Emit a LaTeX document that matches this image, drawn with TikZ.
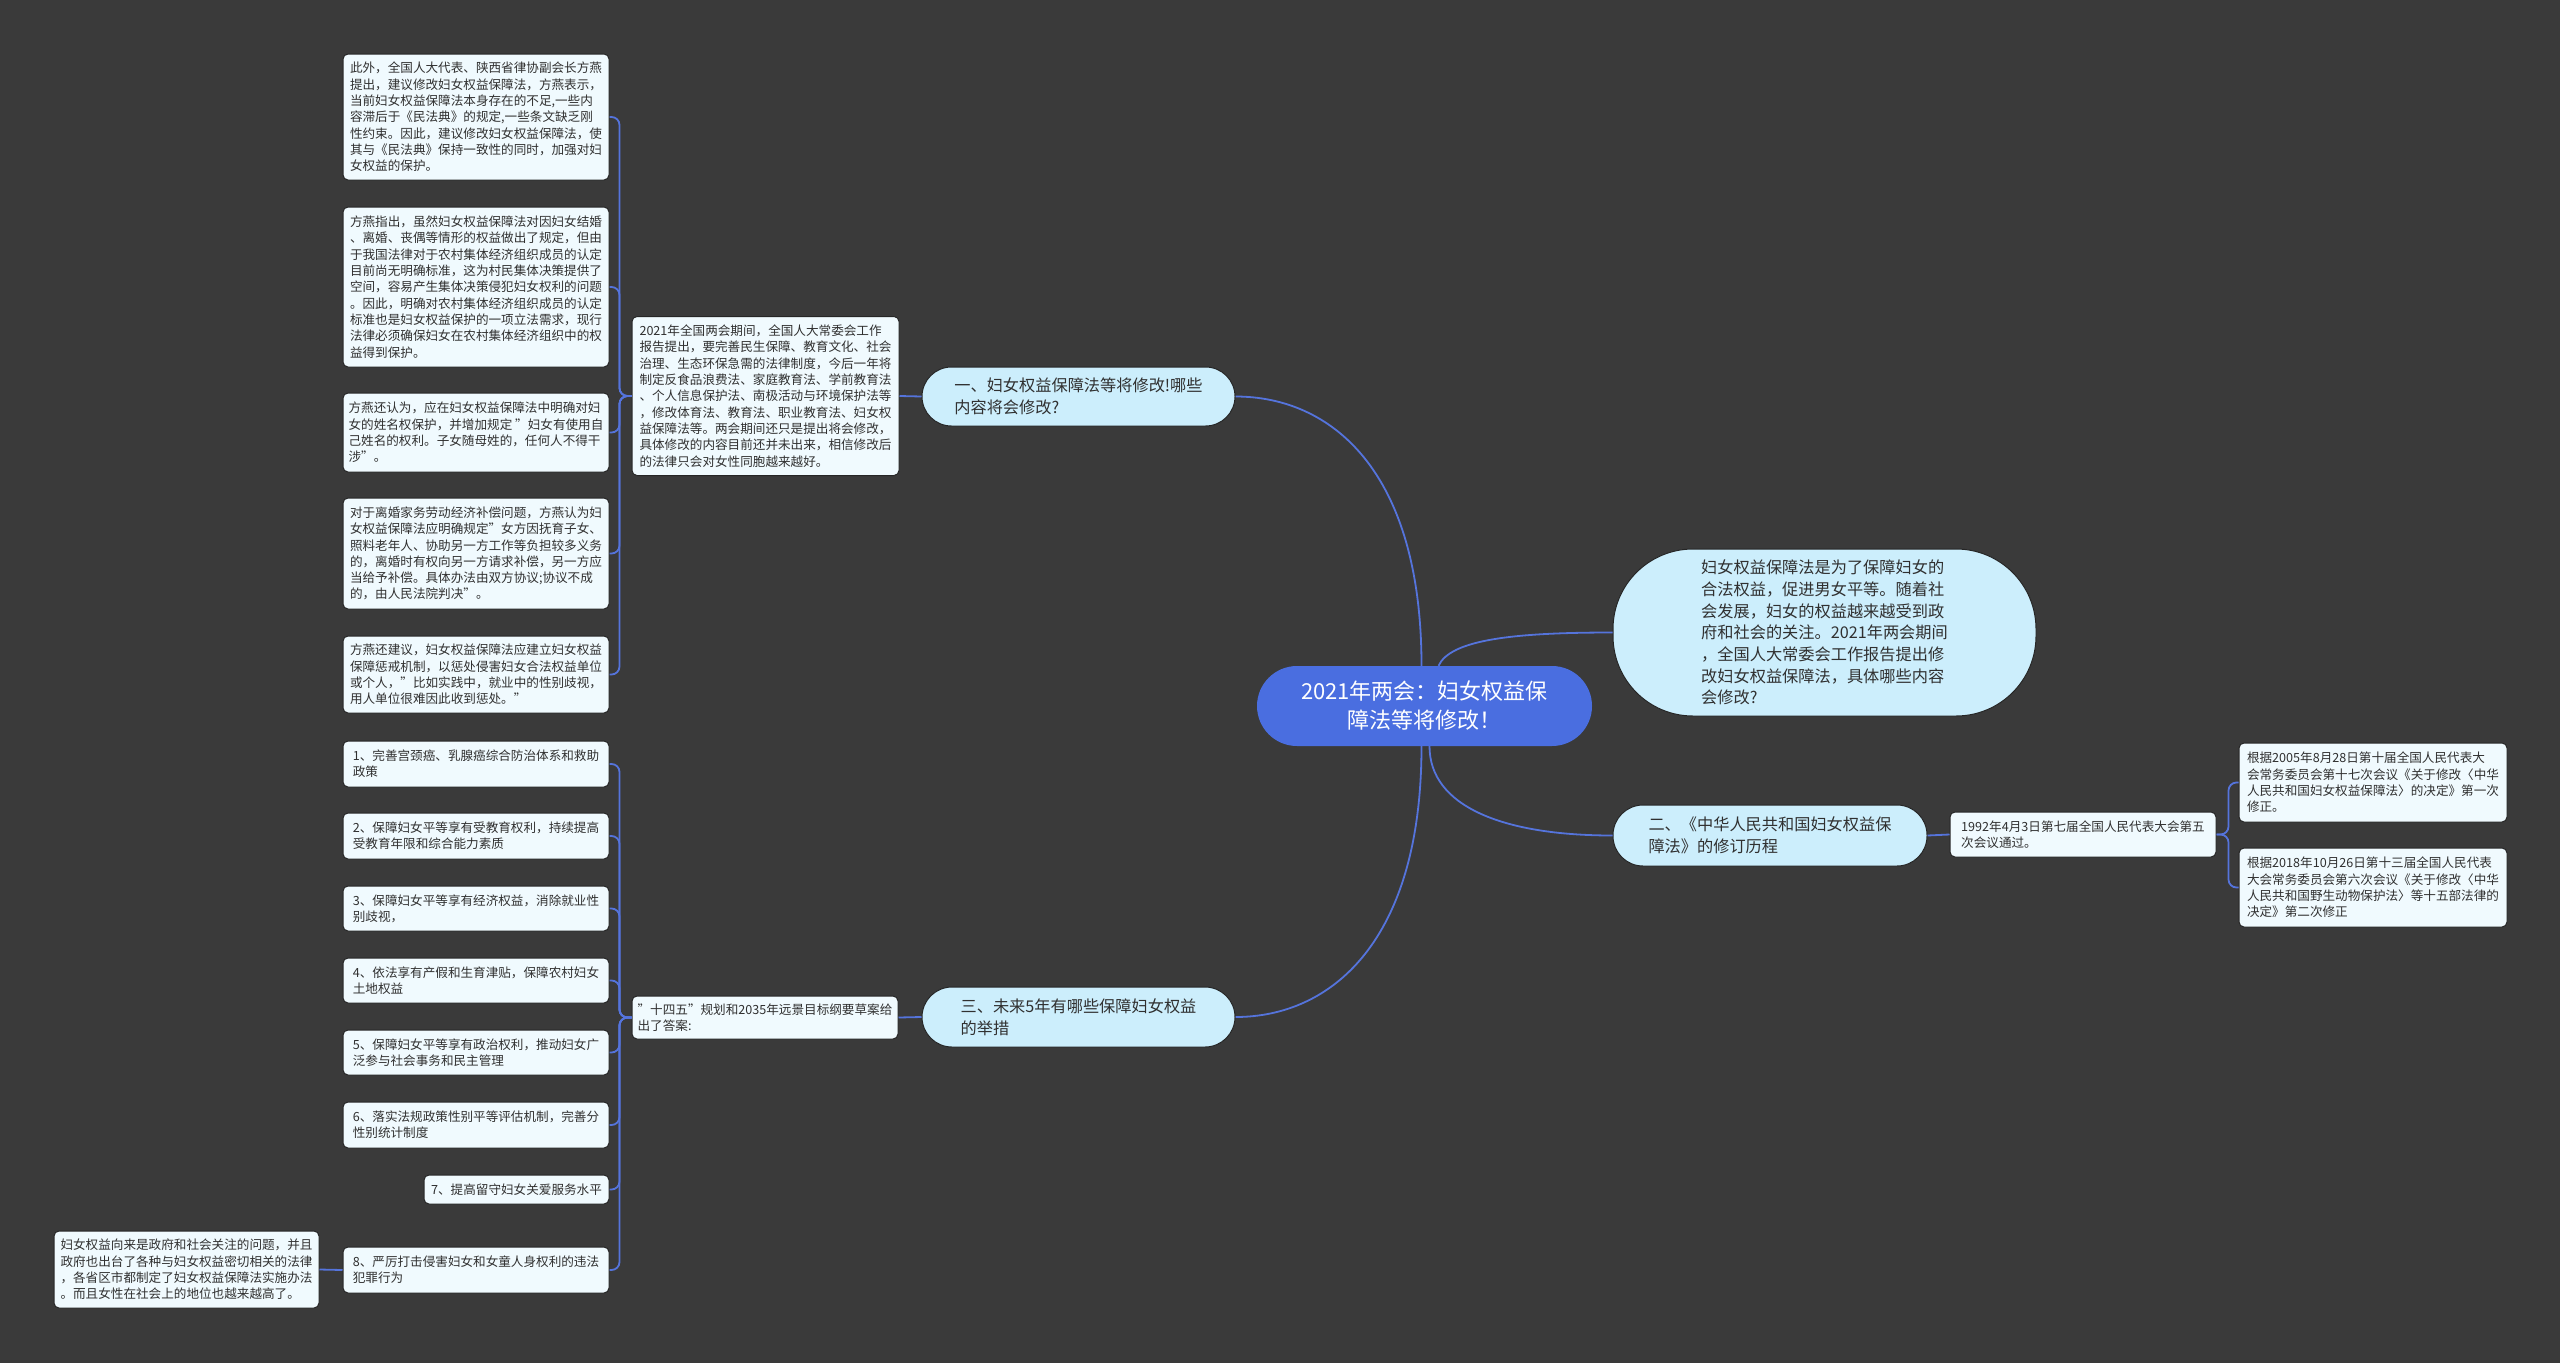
\documentclass[tikz,border=0pt]{standalone}
\usepackage{fontspec}
\setmainfont{Noto Sans CJK SC}
\definecolor{bg}{HTML}{3A3A3A}
\definecolor{leaffill}{HTML}{F0FAFE}
\definecolor{leafline}{HTML}{262626}
\definecolor{branchfill}{HTML}{CCEEFC}
\definecolor{branchline}{HTML}{262626}
\definecolor{ctrfill}{HTML}{4A6EE0}
\definecolor{linkc}{HTML}{5574DC}
\definecolor{txt}{HTML}{303030}
\tikzset{
  leafbox/.style={draw=leafline, line width=1pt, fill=leaffill, rounded corners=5pt,
    inner sep=0pt, align=left, text=txt, font=\fontsize{12.6pt}{16.3pt}\selectfont},
  branchbox/.style={draw=branchline, line width=1pt, fill=branchfill,
    inner sep=0pt, align=left, text=txt, font=\fontsize{16.2pt}{21.7pt}\selectfont},
  ctrbox/.style={draw=none, fill=ctrfill, rounded corners=40pt, inner sep=0pt,
    align=center, text=white, font=\fontsize{22pt}{29pt}\selectfont},
  link/.style={draw=linkc, line width=1.8pt},
  bracket/.style={draw=linkc, line width=1.8pt, rounded corners=8pt}
}
\begin{document}
\begin{tikzpicture}[x=1pt,y=-1pt]
\useasboundingbox (0,0) rectangle (2560,1363);
\fill[bg] (0,0) rectangle (2560,1363);

% centre
\node[ctrbox, minimum width=335pt, minimum height=80pt] (ctr) at (1424.5,706)
  {2021年两会：妇女权益保\\障法等将修改！};

% first-level nodes
\node[branchbox, rounded corners=29.5pt, minimum width=313pt, minimum height=59pt] (b1) at (1078.5,396.5)
  {一、妇女权益保障法等将修改!哪些\\内容将会修改?};
\node[branchbox, rounded corners=80pt, minimum width=423pt, minimum height=167pt] (sum) at (1824.5,632.5)
  {妇女权益保障法是为了保障妇女的\\合法权益，促进男女平等。随着社\\会发展，妇女的权益越来越受到政\\府和社会的关注。2021年两会期间\\，全国人大常委会工作报告提出修\\改妇女权益保障法，具体哪些内容\\会修改?};
\node[branchbox, rounded corners=30pt, minimum width=314pt, minimum height=61pt] (b2) at (1770,835.5)
  {二、《中华人民共和国妇女权益保\\障法》的修订历程};
\node[branchbox, rounded corners=30pt, minimum width=313pt, minimum height=60pt] (b3) at (1078.5,1017)
  {三、未来5年有哪些保障妇女权益\\的举措};

% branch 1 subtree
\node[leafbox, minimum width=267pt, minimum height=159pt] (mid) at (765.5,396)
  {2021年全国两会期间，全国人大常委会工作\\报告提出，要完善民生保障、教育文化、社会\\治理、生态环保急需的法律制度，今后一年将\\制定反食品浪费法、家庭教育法、学前教育法\\、个人信息保护法、南极活动与环境保护法等\\，修改体育法、教育法、职业教育法、妇女权\\益保障法等。两会期间还只是提出将会修改，\\具体修改的内容目前还并未出来，相信修改后\\的法律只会对女性同胞越来越好。};
\node[leafbox, minimum width=266pt, minimum height=126pt] (a1) at (476,117)
  {此外，全国人大代表、陕西省律协副会长方燕\\提出，建议修改妇女权益保障法，方燕表示，\\当前妇女权益保障法本身存在的不足,一些内\\容滞后于《民法典》的规定,一些条文缺乏刚\\性约束。因此，建议修改妇女权益保障法，使\\其与《民法典》保持一致性的同时，加强对妇\\女权益的保护。};
\node[leafbox, minimum width=266pt, minimum height=160pt] (a2) at (476,287)
  {方燕指出，虽然妇女权益保障法对因妇女结婚\\、离婚、丧偶等情形的权益做出了规定，但由\\于我国法律对于农村集体经济组织成员的认定\\目前尚无明确标准，这为村民集体决策提供了\\空间，容易产生集体决策侵犯妇女权利的问题\\。因此，明确对农村集体经济组织成员的认定\\标准也是妇女权益保护的一项立法需求，现行\\法律必须确保妇女在农村集体经济组织中的权\\益得到保护。};
\node[leafbox, minimum width=266pt, minimum height=79pt] (a3) at (476,432.5)
  {方燕还认为，应在妇女权益保障法中明确对妇\\女的姓名权保护，并增加规定 "妇女有使用自\\己姓名的权利。子女随母姓的，任何人不得干\\涉"。};
\node[leafbox, minimum width=266pt, minimum height=111pt] (a4) at (476,553.5)
  {对于离婚家务劳动经济补偿问题，方燕认为妇\\女权益保障法应明确规定"女方因抚育子女、\\照料老年人、协助另一方工作等负担较多义务\\的，离婚时有权向另一方请求补偿，另一方应\\当给予补偿。具体办法由双方协议;协议不成\\的，由人民法院判决"。};
\node[leafbox, minimum width=266pt, minimum height=77pt] (a5) at (476,674.5)
  {方燕还建议，妇女权益保障法应建立妇女权益\\保障惩戒机制，以惩处侵害妇女合法权益单位\\或个人，"比如实践中，就业中的性别歧视，\\用人单位很难因此收到惩处。"};

% branch 2 subtree
\node[leafbox, minimum width=266pt, minimum height=45pt] (n1992) at (2083,834.5)
  {1992年4月3日第七届全国人民代表大会第五\\次会议通过。};
\node[leafbox, minimum width=268pt, minimum height=79pt] (r1) at (2373,782.5)
  {根据2005年8月28日第十届全国人民代表大\\会常务委员会第十七次会议《关于修改〈中华\\人民共和国妇女权益保障法〉的决定》第一次\\修正。};
\node[leafbox, minimum width=268pt, minimum height=79pt] (r2) at (2373,887.5)
  {根据2018年10月26日第十三届全国人民代表\\大会常务委员会第六次会议《关于修改〈中华\\人民共和国野生动物保护法〉等十五部法律的\\决定》第二次修正};

% branch 3 subtree
\node[leafbox, minimum width=266pt, minimum height=43pt] (ss) at (765,1017.5)
  {"十四五"规划和2035年远景目标纲要草案给\\出了答案:};
\node[leafbox, minimum width=266pt, minimum height=46pt] (L1) at (476,764)
  {1、完善宫颈癌、乳腺癌综合防治体系和救助\\政策};
\node[leafbox, minimum width=266pt, minimum height=46pt] (L2) at (476,836)
  {2、保障妇女平等享有受教育权利，持续提高\\受教育年限和综合能力素质};
\node[leafbox, minimum width=266pt, minimum height=45pt] (L3) at (476,908.5)
  {3、保障妇女平等享有经济权益，消除就业性\\别歧视，};
\node[leafbox, minimum width=266pt, minimum height=45pt] (L4) at (476,980.5)
  {4、依法享有产假和生育津贴，保障农村妇女\\土地权益};
\node[leafbox, minimum width=266pt, minimum height=45pt] (L5) at (476,1052.5)
  {5、保障妇女平等享有政治权利，推动妇女广\\泛参与社会事务和民主管理};
\node[leafbox, minimum width=266pt, minimum height=46pt] (L6) at (476,1125)
  {6、落实法规政策性别平等评估机制，完善分\\性别统计制度};
\node[leafbox, minimum width=185pt, minimum height=29pt] (L7) at (516.5,1189.5)
  {7、提高留守妇女关爱服务水平};
\node[leafbox, minimum width=266pt, minimum height=46pt] (L8) at (476,1270)
  {8、严厉打击侵害妇女和女童人身权利的违法\\犯罪行为};
\node[leafbox, minimum width=265pt, minimum height=77pt] (BL) at (186.5,1269.5)
  {妇女权益向来是政府和社会关注的问题，并且\\政府也出台了各种与妇女权益密切相关的法律\\，各省区市都制定了妇女权益保障法实施办法\\。而且女性在社会上的地位也越来越高了。};

% connectors from centre
\draw[link] ([xshift=-3pt]ctr.north) .. controls +(0,-196) and +(95,0) .. (b1.east);
\draw[link] ([xshift=-3pt]ctr.south) .. controls +(0,196) and +(95,0) .. (b3.east);
\draw[link] ([xshift=14pt]ctr.north) .. controls +(12,-26) and +(-100,0) .. (sum.west);
\draw[link] ([xshift=5pt]ctr.south) .. controls +(0,60) and +(-110,0) .. (b2.west);

% branch 1
\draw[link] (b1.west) -- (mid.east);
\foreach \n in {a1,a2,a3,a4,a5}
  \draw[bracket] (mid.west) -- ++(-12,0) |- (\n.east);

% branch 2
\draw[link] (b2.east) -- (n1992.west);
\foreach \n in {r1,r2}
  \draw[bracket] (n1992.east) -- ++(12,0) |- (\n.west);

% branch 3
\draw[link] (b3.west) -- (ss.east);
\foreach \n in {L1,L2,L3,L4,L5,L6,L7,L8}
  \draw[bracket] (ss.west) -- ++(-12,0) |- (\n.east);
\draw[link] (L8.west) -- (BL.east);
\end{tikzpicture}
\end{document}
